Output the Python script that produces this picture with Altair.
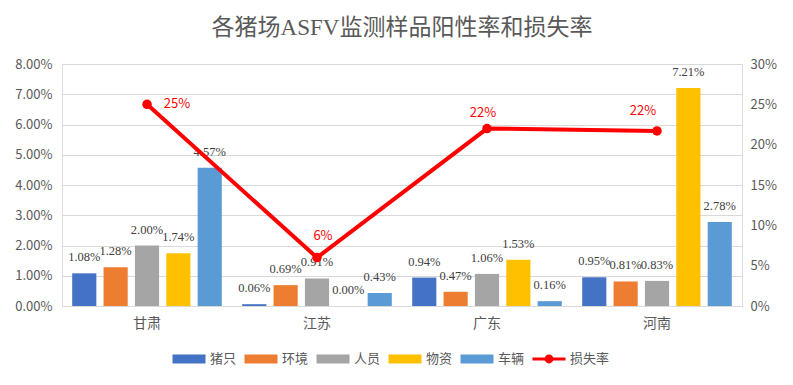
import altair as alt
import pandas as pd

regions = ["甘肃", "江苏", "广东", "河南"]
series = ["猪只", "环境", "人员", "物资", "车辆"]
vals_pig = [0.0108, 0.0006, 0.0094, 0.0095]
vals_env = [0.0128, 0.0069, 0.0047, 0.0081]
vals_person = [0.0200, 0.0091, 0.0106, 0.0083]
vals_goods = [0.0174, 0.0000, 0.0153, 0.0721]
vals_vehicle = [0.0457, 0.0043, 0.0016, 0.0278]
loss_rate = [0.25, 0.06, 0.22, 0.217]
loss_name = "损失率"
left_ticks = [0.0, 0.01, 0.02, 0.03, 0.04, 0.05, 0.06, 0.07, 0.08]
right_ticks = [0.0, 0.05, 0.10, 0.15, 0.20, 0.25, 0.30]

colors = ["#4472C4", "#ED7D31", "#A5A5A5", "#FFC000", "#5B9BD5", "#FF0000"]

rows = []
for s, vals in zip(series, [vals_pig, vals_env, vals_person, vals_goods, vals_vehicle]):
    for r, v in zip(regions, vals):
        rows.append({"地区": r, "系列": s, "值": v})
bar_df = pd.DataFrame(rows)
line_df = pd.DataFrame({"地区": regions, "系列": [loss_name] * 4, "损失": loss_rate})

serif = "Liberation Serif, Noto Sans CJK SC"
sans = "Noto Sans CJK SC"
gray = "#595959"

all_series = series + [loss_name]
color_scale = alt.Scale(domain=all_series, range=colors)

rect_path = "M-1.65,-0.45H1.65V0.45H-1.65Z"
line_path = ("M-1.65,-0.14H1.65V0.14H-1.65Z "
             "M-0.44,0A0.44,0.44 0 1,1 0.44,0A0.44,0.44 0 1,1 -0.44,0Z")
shape_scale = alt.Scale(domain=all_series, range=[rect_path] * 5 + [line_path])

legend = alt.Legend(
    orient="none", legendX=117, legendY=285, direction="horizontal", title=None,
    symbolSize=400, labelOffset=11, columnPadding=7,
    labelFontSize=13, labelColor=gray, labelFont=sans, symbolStrokeWidth=0,
    symbolOpacity=1, symbolType=rect_path,
)
color_enc = alt.Color("系列:N", scale=color_scale, legend=legend)

x_axis = alt.Axis(labelAngle=0, labelFont=sans, labelFontSize=14,
                  labelColor=gray, ticks=False, domainColor="#D9D9D9",
                  grid=False, tickBand="center", labelPadding=10)
x_enc = alt.X("地区:N", sort=regions, title=None,
              scale=alt.Scale(paddingInner=0.12, paddingOuter=0.06), axis=x_axis)
xo_enc = alt.XOffset("系列:N", sort=series, scale=alt.Scale(paddingInner=0.23, paddingOuter=0))

left_axis = alt.Axis(format=".2%", values=left_ticks, tickCount=9,
                     domain=False, ticks=False, gridColor="#D9D9D9", grid=True,
                     labelOverlap=False,
                     labelFont=sans, labelFontSize=13, labelColor=gray,
                     labelPadding=10)
y_left = alt.Y("值:Q", title=None, scale=alt.Scale(domain=[0, 0.08]), axis=left_axis)

bars = alt.Chart(bar_df).mark_bar().encode(
    x=x_enc, xOffset=xo_enc, y=y_left, color=color_enc,
)
bar_text = alt.Chart(bar_df).mark_text(dy=-16, font="Liberation Serif", fontSize=12.5,
                                       color="#404040").encode(
    x=x_enc, xOffset=xo_enc, y=y_left,
    text=alt.Text("值:Q", format=".2%"),
)
bar_layer = alt.layer(bars, bar_text)

right_axis = alt.Axis(orient="right", format=".0%", values=right_ticks,
                      domain=False, ticks=False, grid=False,
                      labelOverlap=False,
                      labelFont=sans, labelFontSize=13, labelColor=gray,
                      labelPadding=8)
y_right = alt.Y("损失:Q", title=None, scale=alt.Scale(domain=[0, 0.30]), axis=right_axis)

line = alt.Chart(line_df).mark_line(strokeWidth=4, color="#FF0000").encode(
    x=x_enc, y=y_right, color=color_enc,
)
pts = alt.Chart(line_df).mark_point(filled=True, size=90, opacity=1, color="#FF0000").encode(
    x=x_enc, y=y_right, color=color_enc,
)
legend_dummy = alt.Chart(line_df).transform_filter("false").mark_point(
    filled=True, opacity=1).encode(
    x=x_enc, y=y_right, color=color_enc,
    shape=alt.Shape("系列:N", scale=shape_scale, legend=legend),
)
label_offsets = {"甘肃": (30, 0), "江苏": (6, -22), "广东": (-4, -16), "河南": (-14, -20)}
line_texts = []
for r in regions:
    dx, dy = label_offsets[r]
    line_texts.append(
        alt.Chart(line_df).transform_filter(alt.datum["地区"] == r)
        .mark_text(dx=dx, dy=dy, font=sans, fontSize=13, color="#FF0000")
        .encode(x=x_enc, y=y_right,
                text=alt.Text("损失:Q", format=".0%"))
    )
line_layer = alt.layer(line, pts, legend_dummy, *line_texts)

chart = (
    alt.layer(bar_layer, line_layer)
    .resolve_scale(y="independent")
    .properties(
        width=680, height=242,
        autosize=alt.AutoSizeParams(type="none"),
        padding={"left": 54, "top": 56, "right": 43, "bottom": 62},
        title=alt.TitleParams("各猪场ASFV监测样品阳性率和损失率", font=serif,
                              fontSize=23, fontWeight="normal", color=gray,
                              anchor="middle", offset=18),
    )
    .configure_view(strokeWidth=0, stroke="transparent", strokeOpacity=0)
    .configure_axisY(domain=False)
    .configure_axisX(grid=False)
    .configure_axisBand(grid=False)
    .configure_axisDiscrete(grid=False)
    .configure(background="white")
)

chart.save("out.html", embed_options={"renderer": "svg", "actions": False})
